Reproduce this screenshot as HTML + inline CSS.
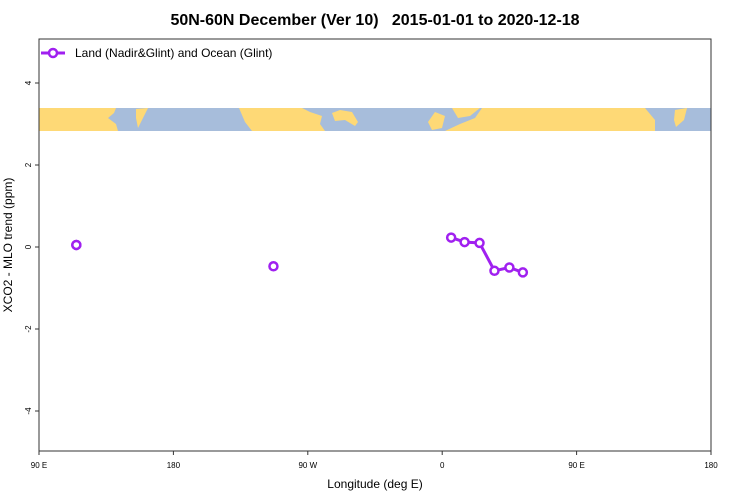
<!DOCTYPE html>
<html><head><meta charset="utf-8"><style>body{margin:0;background:#fff}svg{display:block;font-family:"Liberation Sans",sans-serif}</style></head>
<body>
<svg id="chart" width="750" height="500" viewBox="0 0 750 500">
<rect x="0" y="0" width="750" height="500" fill="#fff"/>
<text x="375" y="25" text-anchor="middle" font-size="16" font-weight="bold" style="white-space:pre" xml:space="preserve">50N-60N December (Ver 10)   2015-01-01 to 2020-12-18</text>
<g>
<rect x="39" y="108" width="672" height="23" fill="#a7bddb"/>
<polygon fill="#fed976" points="39,108 116,108 114,113 108,118 116,124 118,131 39,131"/>
<polygon fill="#fed976" points="136,109 148,108 142,120 138,128 136,118"/>
<polygon fill="#fed976" points="239,108 302,108 310,112 322,116 320,124 325,131 252,131 245,122"/>
<polygon fill="#fed976" points="332,113 340,110 352,112 358,122 355,126 345,120 335,121"/>
<polygon fill="#fed976" points="428,122 435,112 445,116 442,128 432,130"/>
<polygon fill="#fed976" points="452,108 480,108 470,116 458,118"/>
<polygon fill="#fed976" points="482,108 645,108 650,114 655,120 655,131 445,131 460,124 475,118"/>
<polygon fill="#fed976" points="675,110 687,108 684,120 676,127 674,120"/>
</g>
<g id="yaxis"></g>
<g id="xaxis"></g>
<g id="series"></g>
<rect x="39" y="39" width="672" height="412" fill="none" stroke="#333" stroke-width="1"/>
<text transform="translate(12,245) rotate(-90)" text-anchor="middle" font-size="12">XCO2 - MLO trend (ppm)</text>
<text x="375" y="488" text-anchor="middle" font-size="12">Longitude (deg E)</text>
<g>
<line x1="41" y1="53" x2="65" y2="53" stroke="#a020f0" stroke-width="3"/>
<circle cx="53" cy="53" r="4" fill="#fff" stroke="#a020f0" stroke-width="2.5"/>
<text x="75" y="57" font-size="12">Land (Nadir&amp;Glint) and Ocean (Glint)</text>
</g>
</svg>
<script>
const lons=[115,-113,6,15,25,35,45,54,115];
const vals=[0.05,-0.47,0.23,0.12,0.1,-0.58,-0.5,-0.62,0.05];
const segs=[0,1,2,2,2,2,2,2,3];
const yTicks=[-4,-2,0,2,4];
const xTickPos=[90,180,270,360,450,540];
const xTickLabels=["90 E","180","90 W","0","90 E","180"];
const NS="http://www.w3.org/2000/svg";
function X(lon){let l=lon<90?lon+360:lon;return 39+(l-90)*672/450;}
function Y(v){return 247-v*41;}
function mk(t,a,p){const e=document.createElementNS(NS,t);for(const k in a)e.setAttribute(k,a[k]);p.appendChild(e);return e;}
const ya=document.getElementById('yaxis');
yTicks.forEach(v=>{
 const l=mk('line',{x1:35,x2:39,y1:Y(v),y2:Y(v),stroke:'#333'},ya);
 
 
 const t=mk('text',{transform:`translate(31,${Y(v)}) rotate(-90)`,'text-anchor':'middle','font-size':8},ya);
 t.textContent=v;
 
 
});
const xa=document.getElementById('xaxis');
xTickPos.forEach((p,i)=>{
 const x=39+(p-90)*672/450;
 const l=mk('line',{x1:x,x2:x,y1:451,y2:455,stroke:'#333'},xa);
 
 
 const t=mk('text',{x:x,y:468,'text-anchor':'middle','font-size':8},xa);
 t.textContent=xTickLabels[i];
 
 
});
const sg=document.getElementById('series');
for(let i=1;i<lons.length;i++){
 if(segs[i]===segs[i-1]){
  const l=mk('line',{x1:X(lons[i-1]),y1:Y(vals[i-1]),x2:X(lons[i]),y2:Y(vals[i]),stroke:'#a020f0','stroke-width':3},sg);
  
  
 }
}
lons.forEach((lo,i)=>{
 const c=mk('circle',{cx:X(lo),cy:Y(vals[i]),r:4,fill:'#fff',stroke:'#a020f0','stroke-width':2.5},sg);
 
 
});
</script>
</body></html>
